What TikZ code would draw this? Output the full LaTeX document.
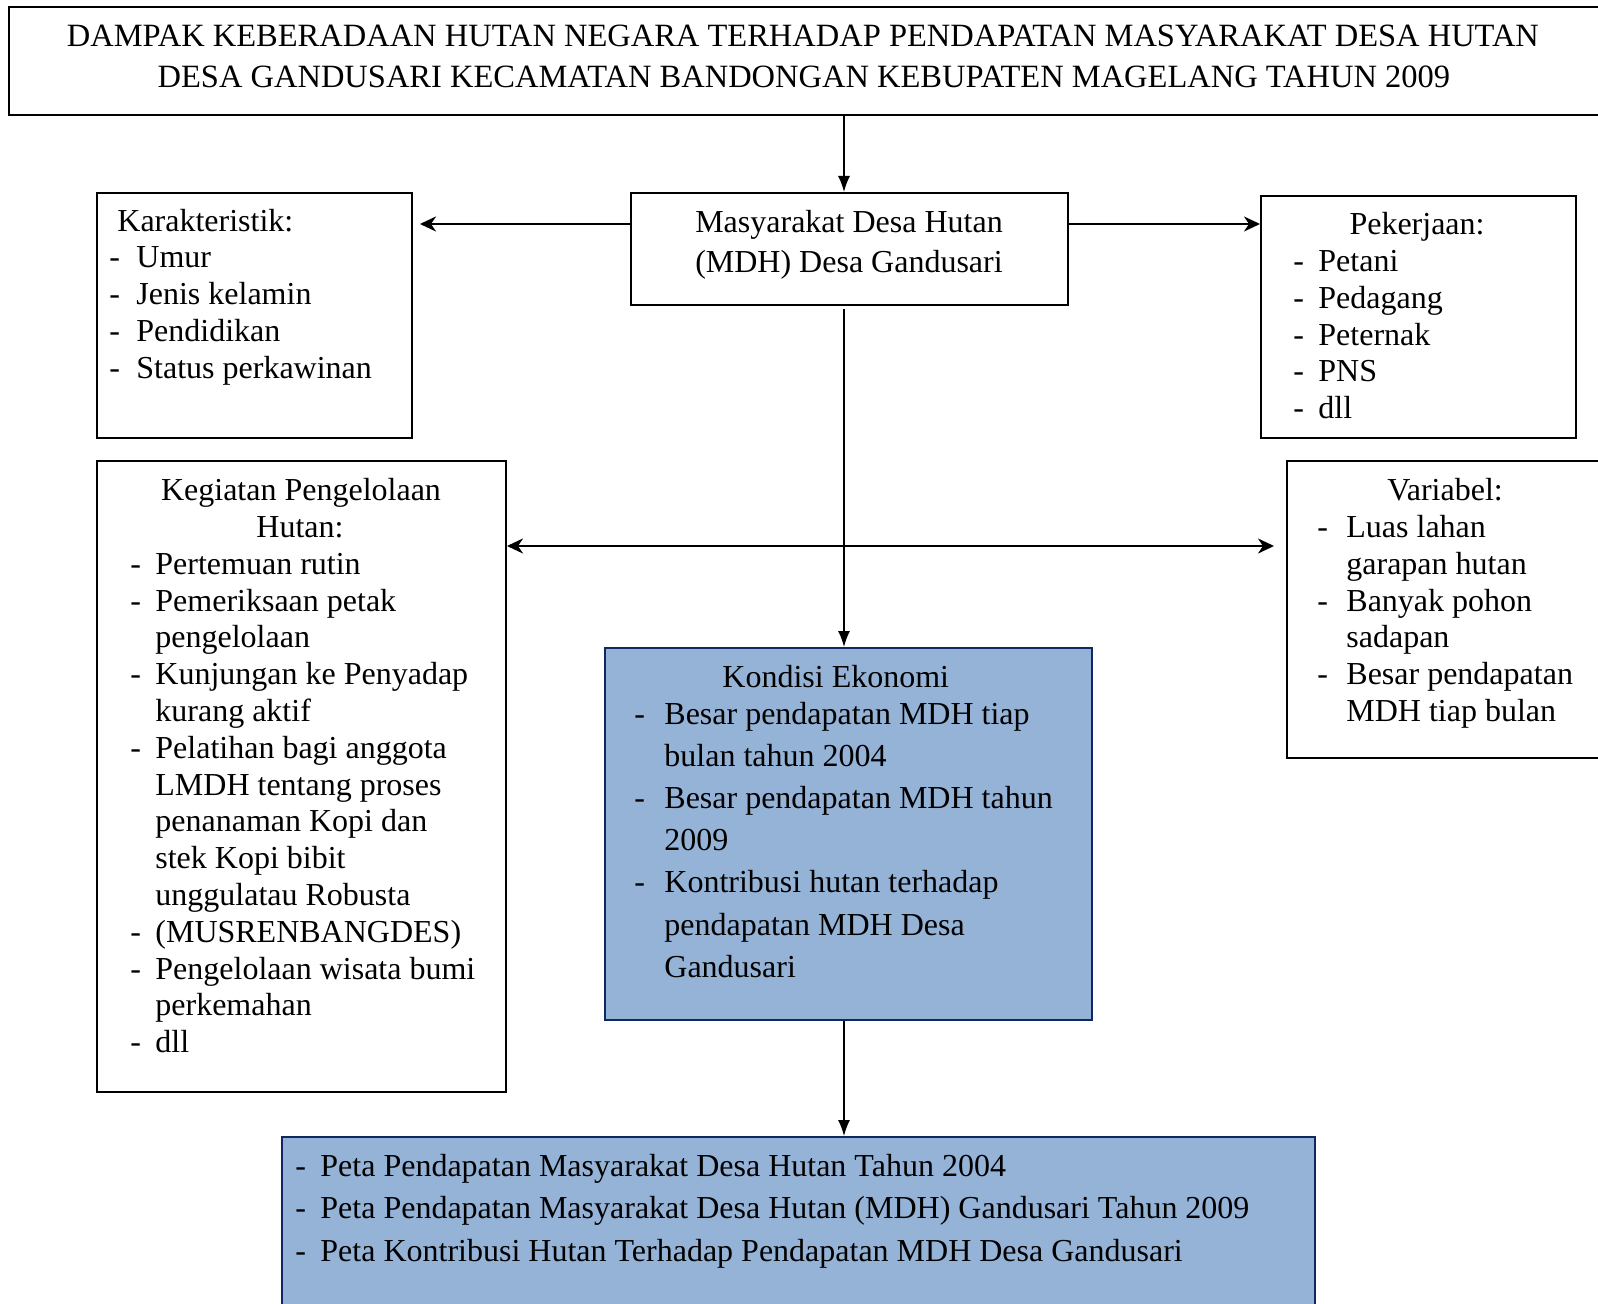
\documentclass[tikz,border=0pt]{standalone}
\usepackage{fontspec}
\setmainfont{Liberation Serif}
\usetikzlibrary{arrows.meta}
\definecolor{boxblue}{HTML}{95B3D7}
\definecolor{navyline}{HTML}{10275F}
\begin{document}
\begin{tikzpicture}[x=0.5pt,y=-0.5pt,
  box/.style={draw=black,line width=1pt,rectangle,inner sep=0pt,anchor=north west},
  bluebox/.style={box,draw=navyline,fill=boxblue,line width=1.2pt},
  txt/.style={inner sep=0pt,font=\fontsize{16}{19}\selectfont},
  tl/.style={txt,anchor=base west},
  tc/.style={txt,anchor=base},
  ttl/.style={inner sep=0pt,anchor=base,font=\fontsize{16.25}{19}\selectfont},
  harrow/.style={line width=1.2pt,-{Stealth[length=8pt,width=7.5pt,inset=2.5pt]}},
  darrow/.style={line width=1.2pt,{Stealth[length=8pt,width=7.5pt,inset=2.5pt]}-{Stealth[length=8pt,width=7.5pt,inset=2.5pt]}},
  varrow/.style={line width=0.7pt,-{Latex[length=8pt,width=6pt]}}
]
\useasboundingbox (0,0) rectangle (1598,1304);

% boxes
\node[box,minimum width=801pt,minimum height=54pt] (title) at (8,6) {};
\node[box,minimum width=218.5pt,minimum height=56pt] (mdh) at (630,192) {};
\node[box,minimum width=157.5pt,minimum height=122.5pt] (kar) at (96,192) {};
\node[box,minimum width=157.5pt,minimum height=121pt] (pek) at (1260,195) {};
\node[box,minimum width=204.5pt,minimum height=315.5pt] (keg) at (96,460) {};
\node[box,minimum width=162pt,minimum height=148.5pt] (var) at (1286,460) {};
\node[bluebox,minimum width=243.5pt,minimum height=186pt] (kon) at (604,647) {};
\node[bluebox,minimum width=516.5pt,minimum height=92pt] (bot) at (281,1136) {};

% title text
\node[ttl] (t1) at (803,47) {DAMPAK KEBERADAAN HUTAN NEGARA TERHADAP PENDAPATAN MASYARAKAT DESA HUTAN};
\node[ttl] (t2) at (804,88) {DESA GANDUSARI KECAMATAN BANDONGAN KEBUPATEN MAGELANG TAHUN 2009};

% MDH text
\node[tc] (m1) at (849,233) {Masyarakat Desa Hutan};
\node[tc] (m2) at (849,273) {(MDH) Desa Gandusari};

% Karakteristik
\node[tl] (karh) at (117,232) {Karakteristik:};
\foreach \t [count=\i] in {Umur, Jenis kelamin, Pendidikan, Status perkawinan} {
  \node[tl] (kard-\i) at (109,{268+(\i-1)*36.8}) {-};
  \node[tl] (kar-\i) at (136,{268+(\i-1)*36.8}) {\t};
}

% Pekerjaan
\node[tc] (pekh) at (1417,235) {Pekerjaan:};
\foreach \t [count=\i] in {Petani, Pedagang, Peternak, PNS, dll} {
  \node[tl] (pekd-\i) at (1293,{272+(\i-1)*36.6}) {-};
  \node[tl] (pek-\i) at (1318,{272+(\i-1)*36.6}) {\t};
}

% Kegiatan
\node[tc] (kegh1) at (301,500.6) {Kegiatan Pengelolaan};
\node[tc] (kegh2) at (300,537.4) {Hutan:};
\foreach \t/\d [count=\i] in {Pertemuan rutin/1, Pemeriksaan petak/1, pengelolaan/0,
  Kunjungan ke Penyadap/1, kurang aktif/0, Pelatihan bagi anggota/1,
  LMDH tentang proses/0, penanaman Kopi dan/0, stek Kopi bibit/0,
  unggulatau Robusta/0, {(MUSRENBANGDES)}/1, Pengelolaan wisata bumi/1,
  perkemahan/0, dll/1} {
  \ifnum\d=1
    \node[tl] (kegd-\i) at (130,{574.2+(\i-1)*36.8}) {-};
  \fi
  \node[tl] (keg-\i) at (155,{574.2+(\i-1)*36.8}) {\t};
}

% Variabel
\node[tc] (varh) at (1445,500.6) {Variabel:};
\foreach \t/\d [count=\i] in {Luas lahan/1, garapan hutan/0, Banyak pohon/1,
  sadapan/0, Besar pendapatan/1, MDH tiap bulan/0} {
  \ifnum\d=1
    \node[tl] (vard-\i) at (1317,{537.4+(\i-1)*36.8}) {-};
  \fi
  \node[tl] (var-\i) at (1346,{537.4+(\i-1)*36.8}) {\t};
}

% Kondisi Ekonomi
\node[tl] (konh) at (722,687) {Kondisi Ekonomi};
\foreach \t/\d [count=\i] in {Besar pendapatan MDH tiap/1, bulan tahun 2004/0,
  Besar pendapatan MDH tahun/1, 2009/0, Kontribusi hutan terhadap/1,
  pendapatan MDH Desa/0, Gandusari/0} {
  \ifnum\d=1
    \node[tl] (kond-\i) at (634,{724+(\i-1)*42.2}) {-};
  \fi
  \node[tl] (kon-\i) at (664,{724+(\i-1)*42.2}) {\t};
}

% bottom box
\foreach \t [count=\i] in {Peta Pendapatan Masyarakat Desa Hutan Tahun 2004,
  {Peta Pendapatan Masyarakat Desa Hutan (MDH) Gandusari Tahun 2009},
  Peta Kontribusi Hutan Terhadap Pendapatan MDH Desa Gandusari} {
  \node[tl] (botd-\i) at (295,{1176+(\i-1)*42.5}) {-};
  \node[tl] (bot-\i) at (320,{1176+(\i-1)*42.5}) {\t};
}

% connectors
\coordinate (vx) at (844,0);
\coordinate (hy) at (0,224);
\coordinate (dy) at (0,546);
\draw[varrow] (title.south -| vx) -- (mdh.north -| vx);
\draw[harrow,shorten >=3.5pt] (mdh.west |- hy) -- (kar.east |- hy);
\draw[harrow] (mdh.east |- hy) -- (pek.west |- hy);
\draw[varrow,shorten <=1.5pt] (mdh.south -| vx) -- (kon.north -| vx);
\draw[darrow,shorten >=6pt] (keg.east |- dy) -- (var.west |- dy);
\draw[varrow] (kon.south -| vx) -- (bot.north -| vx);
\end{tikzpicture}
\end{document}
